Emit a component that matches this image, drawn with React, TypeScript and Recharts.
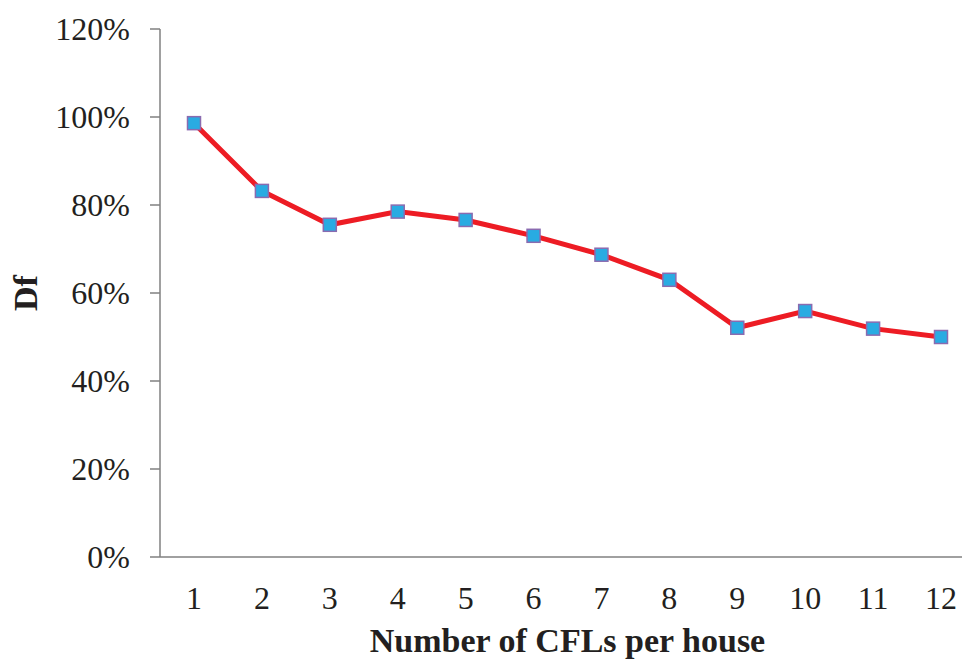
import { LineChart, Line, XAxis, YAxis } from "recharts"

// Demand factor (Df) by number of CFLs installed per house
const houses = ["1", "2", "3", "4", "5", "6", "7", "8", "9", "10", "11", "12"]
const dfPercent = [98.6, 83.2, 75.5, 78.5, 76.6, 73, 68.7, 63, 52.1, 55.9, 51.9, 50]
const yTicks = [0, 20, 40, 60, 80, 100, 120]

const data = houses.map((n, i) => ({ n, df: dfPercent[i] }))

const serif = "'Liberation Serif', 'Times New Roman', serif"
const axisGray = "#808080"
const textColor = "#231F20"

const SquareDot = (props: any) => {
  const { cx, cy, index } = props
  if (cx == null || cy == null) return null
  return (
    <rect
      key={`dot-${index}`}
      x={cx - 6.5}
      y={cy - 6.5}
      width={13}
      height={13}
      fill="#29ABE2"
      stroke="#8A6BB0"
      strokeWidth={1.5}
    />
  )
}

export default function App() {
  return (
    <div
      style={{
        position: "absolute",
        left: 0,
        top: 0,
        width: 962,
        height: 659,
        overflow: "hidden",
        background: "#fff",
      }}
    >
      <LineChart
        width={990}
        height={659}
        data={data}
        margin={{ top: 29, right: 15, left: 0, bottom: 42 }}
      >
        <XAxis
          dataKey="n"
          height={60}
          padding={{ left: 34, right: 34 }}
          axisLine={{ stroke: axisGray, strokeWidth: 1.5 }}
          tickLine={false}
          tickSize={0}
          tickMargin={29}
          interval={0}
          tick={{ fill: textColor, fontSize: 32, fontFamily: serif }}
          label={{
            content: (p: any) => {
              const vb = p.viewBox
              return (
                <text
                  x={vb.x + vb.width / 2}
                  y={vb.y + 95}
                  textAnchor="middle"
                  fill={textColor}
                  fontFamily={serif}
                  fontWeight="bold"
                  fontSize={34}
                >
                  Number of CFLs per house
                </text>
              )
            },
          }}
        />
        <YAxis
          width={160}
          domain={[0, 120]}
          ticks={yTicks}
          interval={0}
          tickFormatter={(v) => `${v}%`}
          axisLine={{ stroke: axisGray, strokeWidth: 1.5 }}
          tickLine={{ stroke: axisGray, strokeWidth: 1.5 }}
          tickSize={10}
          tickMargin={20}
          tick={{ fill: textColor, fontSize: 32, fontFamily: serif }}
          label={{
            content: (p: any) => {
              const vb = p.viewBox
              const cy = vb.y + vb.height / 2
              return (
                <text
                  x={37}
                  y={cy}
                  transform={`rotate(-90, 37, ${cy})`}
                  textAnchor="middle"
                  fill={textColor}
                  fontFamily={serif}
                  fontWeight="bold"
                  fontSize={34}
                >
                  Df
                </text>
              )
            },
          }}
        />
        <Line
          type="linear"
          dataKey="df"
          stroke="#ED1C24"
          strokeWidth={5}
          dot={SquareDot}
          activeDot={false}
          isAnimationActive={false}
        />
      </LineChart>
    </div>
  )
}
